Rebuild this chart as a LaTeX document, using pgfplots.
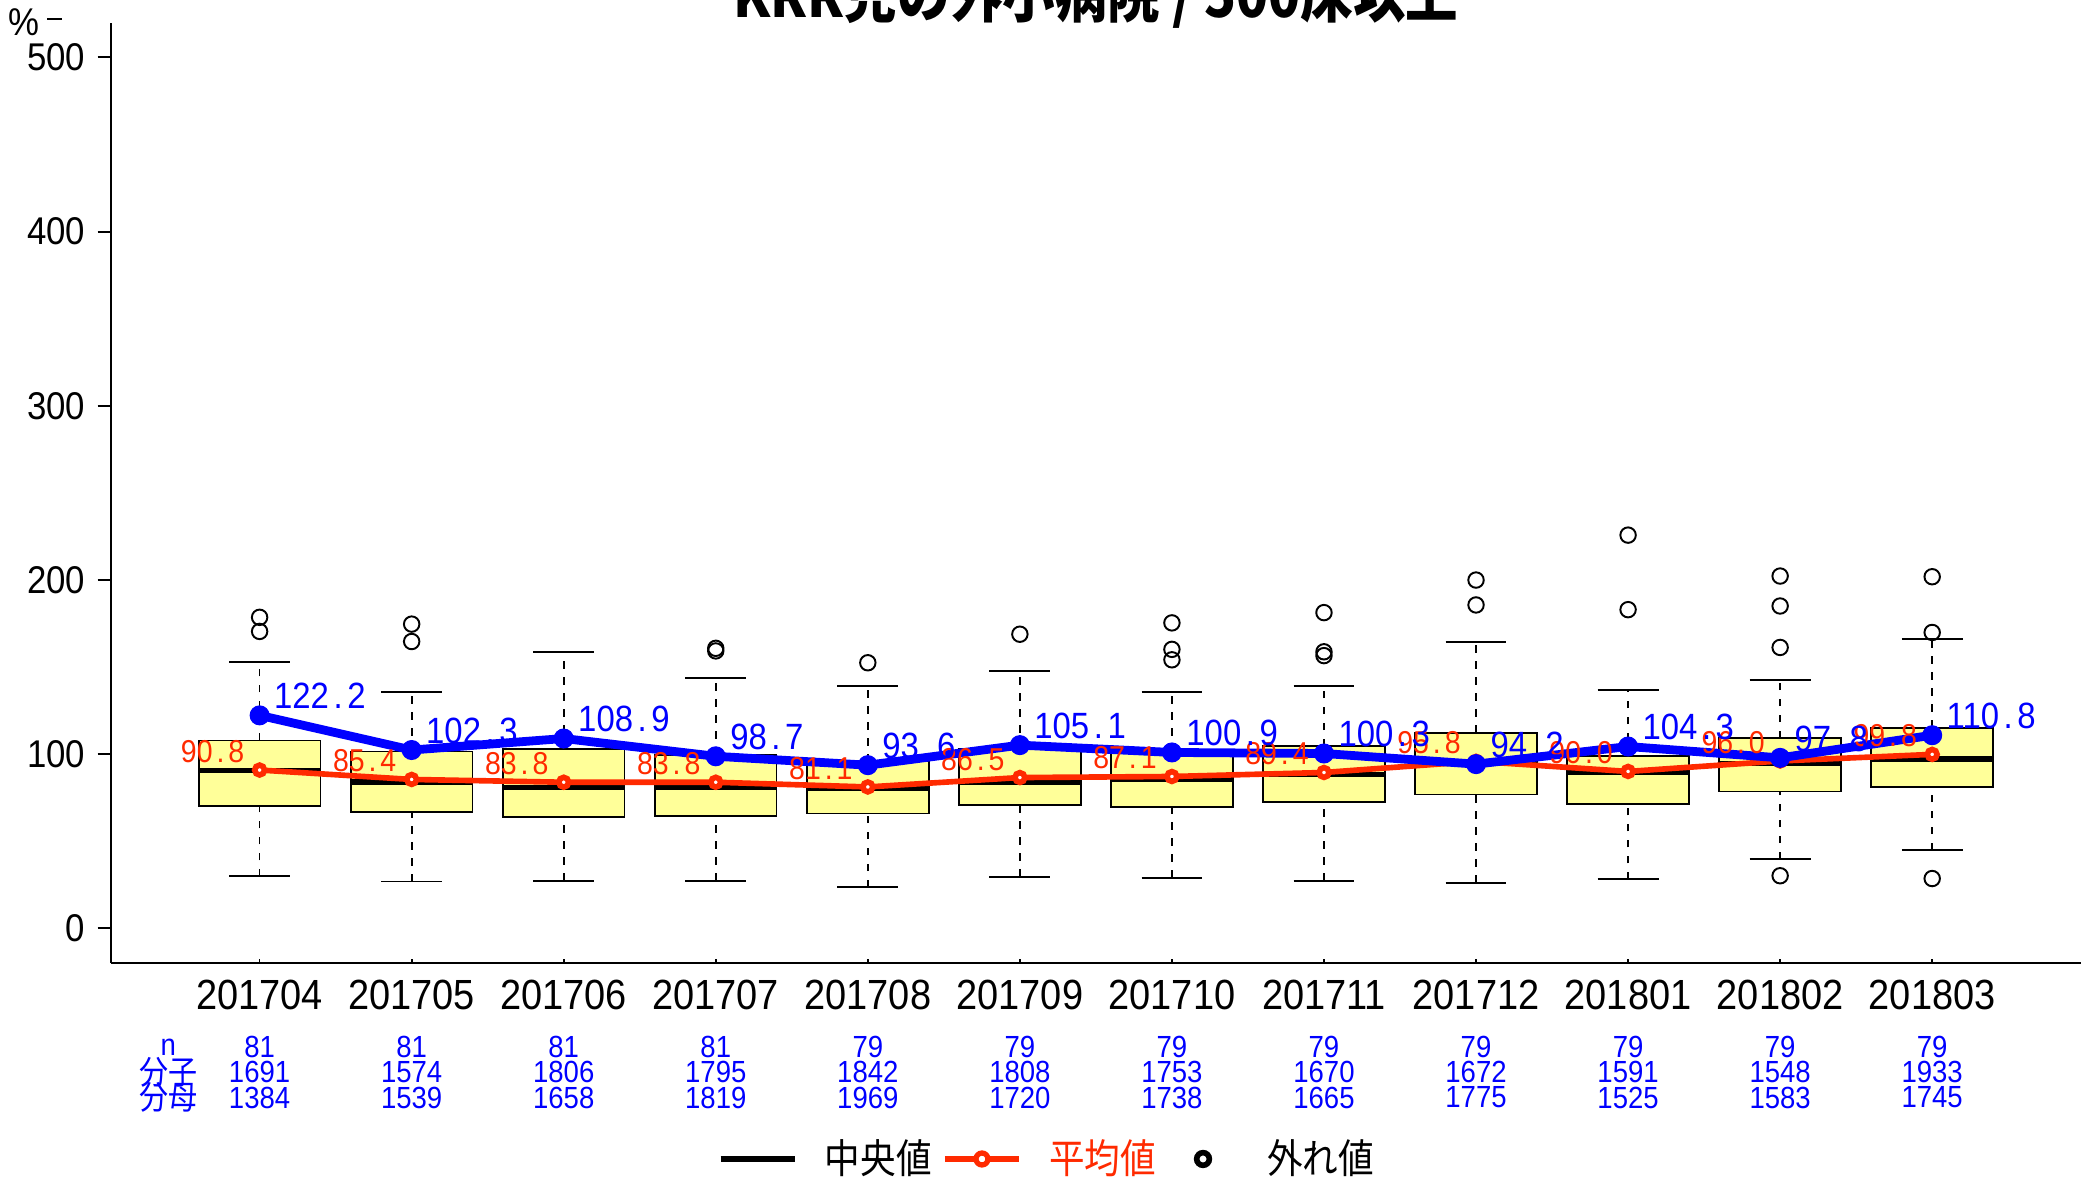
\documentclass[border=0pt]{standalone}
\usepackage{pgfplots}
\pgfplotsset{compat=1.18}
\usepackage{pgfplotstable}
\usepackage{fontspec}
\setmainfont{Liberation Sans}[FakeStretch=0.9]
\newfontfamily\cjk{Noto Sans CJK JP}[FakeStretch=0.88]
\definecolor{rred}{HTML}{FF2A00}
\definecolor{pblue}{HTML}{0000FF}
\definecolor{boxfill}{HTML}{FFFF99}

\pgfplotstableread{
pos mean ratio
1 90.8 122.2
2 85.4 102.3
3 83.8 108.9
4 83.8 98.7
5 81.1 93.6
6 86.5 105.1
7 87.1 100.9
8 89.4 100.3
9 95.8 94.2
10 90.0 104.3
11 96.0 97.8
12 99.8 110.8
}\linedata

% one box: position, lower whisker, lower quartile, median, upper quartile, upper whisker
\newcommand\rbox[6]{%
  \pgfmathsetmacro\xl{#1-0.4}\pgfmathsetmacro\xr{#1+0.4}%
  \pgfmathsetmacro\wl{#1-0.2}\pgfmathsetmacro\wr{#1+0.2}%
  \edef\tmp{%
    \noexpand\addplot[forget plot, black, line width=0.5pt, dash pattern=on 0.75mm off 0.85mm] coordinates {(#1,#2) (#1,#3)};
    \noexpand\addplot[forget plot, black, line width=0.5pt, dash pattern=on 0.75mm off 0.85mm] coordinates {(#1,#5) (#1,#6)};
    \noexpand\addplot[forget plot, black, line width=0.55pt] coordinates {(\wl,#2) (\wr,#2)};
    \noexpand\addplot[forget plot, black, line width=0.55pt] coordinates {(\wl,#6) (\wr,#6)};
    \noexpand\addplot[forget plot, fill=boxfill, draw=black, line width=0.5pt] coordinates {(\xl,#3) (\xr,#3) (\xr,#5) (\xl,#5)} -- cycle;
    \noexpand\addplot[forget plot, black, line width=1.5pt] coordinates {(\xl,#4) (\xr,#4)};
  }\tmp
}
\tikzset{tabnode/.style={font=\fontsize{8.7}{9}\selectfont, text=pblue, inner sep=0pt, anchor=center}}

\begin{document}
\begin{tikzpicture}
\begin{axis}[
  scale only axis, width=19.706cm, height=9.404cm,
  xmin=0.02, xmax=12.98, ymin=-20, ymax=520,
  clip=false,
  axis x line*=bottom, axis y line*=left,
  axis line style={-, line width=0.6pt},
  tick align=outside, major tick length=1.3mm,
  ytick={0,100,200,300,400,500},
  ytick style={line width=0.6pt, black},
  yticklabel style={font=\fontsize{11}{13}\selectfont},
  /pgf/number format/assume math mode=true,
  xtick={1,...,12},
  xticklabels={201704,201705,201706,201707,201708,201709,201710,201711,201712,201801,201802,201803},
  xtick style={draw=none},
  xticklabel style={font=\fontsize{12}{14}\selectfont, inner sep=0pt, yshift=-0.3mm},
  legend columns=3,
  legend style={at={(axis description cs:0.3075,-0.2084)}, anchor=west, draw=none, fill=none,
    inner sep=0pt, nodes={inner sep=0pt},
    font=\fontsize{11.5}{13}\selectfont\cjk,
    /tikz/every odd column/.append style={column sep=0.27cm},
    /tikz/every even column/.append style={column sep=0.1cm}},
]
\addlegendimage{legend image code/.code={\draw[black, line width=1.9pt] (0cm,0cm) -- (0.74cm,0cm);}}
\addlegendentry{中央値}
\addlegendimage{legend image code/.code={\draw[rred, line width=1.9pt] (0cm,0cm) -- (0.74cm,0cm); \draw[rred, line width=1.5pt, fill=white] (0.37cm,0cm) circle (1.7pt);}}
\addlegendentry{\textcolor{rred}{平均値}}
\addlegendimage{legend image code/.code={\path[draw=none, fill=none] (0cm,-0.1cm) rectangle (0.74cm,0.1cm); \draw[black, line width=1.6pt] (0.37cm,0cm) circle (1.8pt);}}
\addlegendentry{外れ値}

\rbox{1}{29.7}{70.2}{90.5}{107.8}{153.0}
\rbox{2}{26.8}{66.7}{83.9}{101.4}{135.7}
\rbox{3}{27.2}{64.0}{80.8}{102.9}{158.8}
\rbox{4}{27.2}{64.4}{80.8}{99.5}{143.8}
\rbox{5}{23.6}{65.9}{80.3}{95.7}{139.0}
\rbox{6}{29.5}{70.7}{84.0}{103.1}{147.5}
\rbox{7}{29.0}{69.6}{85.2}{101.4}{135.7}
\rbox{8}{27.3}{72.6}{88.4}{104.6}{138.9}
\rbox{9}{26.1}{76.8}{95.0}{112.1}{164.4}
\rbox{10}{28.0}{71.1}{89.2}{98.8}{136.9}
\rbox{11}{39.6}{78.5}{94.4}{109.1}{142.7}
\rbox{12}{44.8}{81.0}{97.2}{115.0}{166.3}

% outliers
\addplot[forget plot, only marks, mark=o, mark size=2.2pt, mark options={line width=0.55pt, draw=black}]
  coordinates {(1,178.5) (1,170.4) (2,174.6) (2,164.6) (4,160.7) (4,159.2) (5,152.4) (6,168.8)
    (7,175.3) (7,160.1) (7,154.1) (8,181.2) (8,158.7) (8,156.5) (9,199.9) (9,185.6)
    (10,225.7) (10,182.9) (11,202.2) (11,185.0) (11,161.2) (11,30.1) (12,201.8) (12,169.8) (12,28.5)};

\addplot[forget plot, rred, line width=1.6pt, mark=*, mark size=1.4pt,
  mark options={fill=white, draw=rred, line width=1.6pt},
  point meta=y,
  nodes near coords={\pgfmathprintnumber[fixed, fixed zerofill, precision=1, set decimal separator={\makebox[0.5em]{.}}]{\pgfplotspointmeta}},
  every node near coord/.append style={anchor=base east, xshift=-1.25mm, yshift=0.75mm, inner sep=0pt, font=\fontsize{9}{10}\selectfont, text=rred}]
  table[x=pos, y=mean] {\linedata};

\addplot[forget plot, pblue, line width=2.5pt, mark=*, mark size=2.7pt,
  mark options={fill=pblue, draw=pblue, line width=0.3pt},
  point meta=y,
  nodes near coords={\pgfmathprintnumber[fixed, fixed zerofill, precision=1, set decimal separator={\makebox[0.5em]{.}}]{\pgfplotspointmeta}},
  every node near coord/.append style={anchor=base west, xshift=1.4mm, yshift=0.67mm, inner sep=0pt, font=\fontsize{10.4}{12}\selectfont, text=pblue}]
  table[x=pos, y=ratio] {\linedata};

\pgfplotsinvokeforeach{1,...,12}{\draw[line width=0.5pt] (axis cs:#1,-20) -- ++(0pt,0.4mm);}

\node[tabnode, yshift=-0.839cm] at (axis cs:0.40,-20) {n};
\node[tabnode, yshift=-1.092cm, font=\fontsize{9.4}{10}\selectfont\cjk] at (axis cs:0.40,-20) {分子};
\node[tabnode, yshift=-1.345cm, font=\fontsize{9.4}{10}\selectfont\cjk] at (axis cs:0.40,-20) {分母};
\foreach \i/\n/\a/\b in {1/81/1691/1384,2/81/1574/1539,3/81/1806/1658,4/81/1795/1819,5/79/1842/1969,6/79/1808/1720,7/79/1753/1738,8/79/1670/1665,9/79/1672/1775,10/79/1591/1525,11/79/1548/1583,12/79/1933/1745}{
  \edef\tmp{\noexpand\node[tabnode, yshift=-0.839cm] at (axis cs:\i,-20) {\n};
    \noexpand\node[tabnode, yshift=-1.092cm] at (axis cs:\i,-20) {\a};
    \noexpand\node[tabnode, yshift=-1.345cm] at (axis cs:\i,-20) {\b};}
  \tmp
}

\node[anchor=base, yshift=0.46mm, inner sep=0pt, font=\fontsize{17}{20}\selectfont\cjk\bfseries] at (axis description cs:0.5,1) {KRR児の外小病院 / 500床以上};
\node[inner sep=0pt, xshift=-0.87cm, font=\fontsize{11}{13}\selectfont] at (axis description cs:0,1) {\%};
\node[inner sep=0pt, xshift=-0.56cm, yshift=0.36mm] at (axis description cs:0,1) {\rule{1.5mm}{0.22mm}};
\end{axis}
\pgfresetboundingbox
\path[use as bounding box] (-1.106cm,-2.170cm) rectangle (19.784cm,9.630cm);
\end{tikzpicture}
\end{document}
